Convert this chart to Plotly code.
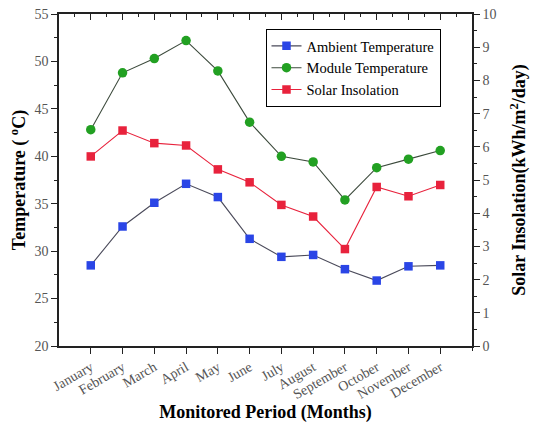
import plotly.graph_objects as go

# Monthly values
months = ['January', 'February', 'March', 'April', 'May', 'June', 'July',
          'August', 'September', 'October', 'November', 'December']
ambient_temp = [28.5, 32.6, 35.1, 37.1, 35.7, 31.3, 29.4, 29.6, 28.1, 26.9, 28.4, 28.5]
module_temp = [42.8, 48.8, 50.3, 52.2, 49.0, 43.6, 40.0, 39.4, 35.4, 38.8, 39.7, 40.6]
solar_insolation = [5.71, 6.49, 6.11, 6.04, 5.32, 4.93, 4.25, 3.90, 2.92, 4.79, 4.51, 4.85]

FONT = 'Liberation Serif'
AXIS_COLOR = '#222222'
TICK_FONT = dict(family=FONT, size=14, color='#555555')
TITLE_FONT = dict(family=FONT, size=18, color='black')

fig = go.Figure()

fig.add_trace(go.Scatter(x=months, y=ambient_temp, name='Ambient Temperature',
                         mode='lines+markers',
                         line=dict(color='#4a4a5a', width=1.1),
                         marker=dict(symbol='square', size=8.5, color='#2a45e6')))
fig.add_trace(go.Scatter(x=months, y=module_temp, name='Module Temperature',
                         mode='lines+markers',
                         line=dict(color='#3c4a3c', width=1.1),
                         marker=dict(symbol='circle', size=9.5, color='#22a022')))
fig.add_trace(go.Scatter(x=months, y=solar_insolation, name='Solar Insolation',
                         mode='lines+markers', yaxis='y2',
                         line=dict(color='#e8223c', width=1.1),
                         marker=dict(symbol='square', size=8.5, color='#e8223c')))

# invisible trace so the top mirror axis is drawn
fig.add_trace(go.Scatter(x=[None], y=[None], xaxis='x2', showlegend=False, hoverinfo='skip'))

fig.update_layout(
    width=535, height=423,
    margin=dict(l=59, r=63, t=14, b=77, autoexpand=False),
    plot_bgcolor='white', paper_bgcolor='white',
    font=dict(family=FONT, color='black'),
    legend=dict(x=0.5, y=0.955, xanchor='left', yanchor='top',
                bgcolor='white', bordercolor='black', borderwidth=1,
                font=dict(family=FONT, size=14.5, color='black'),
                tracegroupgap=0, itemwidth=30),
    xaxis=dict(
        range=[-1, 12], showline=True, linecolor=AXIS_COLOR, linewidth=1.5,
        ticks='outside', ticklen=6, tickcolor=AXIS_COLOR, tickwidth=1.2,
        tickangle=-30, tickfont=TICK_FONT, automargin=False,
        minor=dict(ticks='outside', ticklen=3, tickcolor=AXIS_COLOR, dtick=0.5, tick0=-0.5),
        showgrid=False, zeroline=False,
        title=dict(text='<b>Monitored Period (Months)</b>', standoff=2, font=TITLE_FONT),
    ),
    xaxis2=dict(
        overlaying='x', side='top', range=[-1, 12], automargin=False,
        showline=True, linecolor=AXIS_COLOR, linewidth=1.5,
        ticks='inside', ticklen=6, tickcolor=AXIS_COLOR, tickwidth=1.2,
        showticklabels=False, showgrid=False, zeroline=False,
        tickmode='linear', tick0=0, dtick=1,
        minor=dict(ticks='inside', ticklen=3, tickcolor=AXIS_COLOR, dtick=0.5, tick0=-0.5),
    ),
    yaxis=dict(
        range=[20, 55], dtick=5, showline=True, linecolor=AXIS_COLOR, linewidth=1.5,
        ticks='outside', ticklen=6, tickcolor=AXIS_COLOR, tickwidth=1.2,
        minor=dict(ticks='outside', ticklen=3, tickcolor=AXIS_COLOR, dtick=2.5),
        tickfont=TICK_FONT, showgrid=False, zeroline=False, automargin=False,
        title=dict(text='<b>Temperature ( <sup>o</sup>C)</b>', standoff=4, font=TITLE_FONT),
    ),
    yaxis2=dict(
        overlaying='y', side='right', range=[0, 10], dtick=1,
        showline=True, linecolor=AXIS_COLOR, linewidth=1.5,
        ticks='outside', ticklen=6, tickcolor=AXIS_COLOR, tickwidth=1.2,
        minor=dict(ticks='outside', ticklen=3, tickcolor=AXIS_COLOR, dtick=0.5),
        tickfont=TICK_FONT, showgrid=False, zeroline=False, automargin=False,
        title=dict(text='<b>Solar Insolation(kWh/m<sup>2</sup>/day)</b>', standoff=17,
                   font=TITLE_FONT),
    ),
)

# drop the page's default body margin so the figure sits at the window corner
fig.write_html('out.html', config={'displayModeBar': False},
               post_script="document.body.style.margin='0';document.body.style.padding='0';")
